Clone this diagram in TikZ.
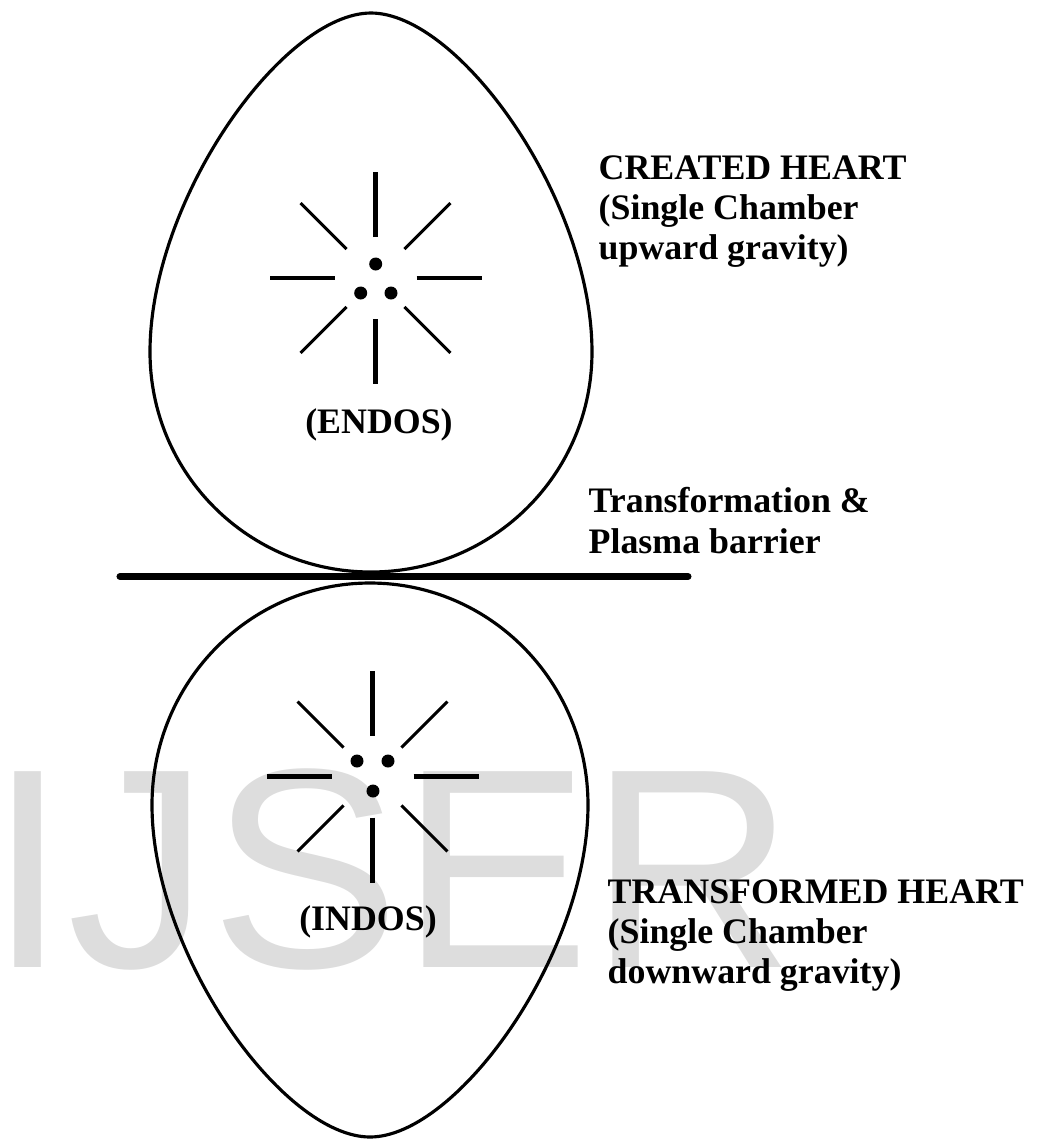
\documentclass[tikz,border=0pt]{standalone}
\usepackage{fontspec}
\setmainfont{Liberation Serif}
\newfontfamily\wmfont{Liberation Sans}
\usepackage{tikz}
\usetikzlibrary{calc}
\definecolor{wmgray}{RGB}{221,221,221}
\tikzset{
  eggline/.style={line width=0.9pt, black},
  rayline/.style={line width=1.15pt},
  diagline/.style={line width=0.85pt},
  nucleus/.style={circle, fill=black, inner sep=0pt, minimum size=0.13cm},
  labeltext/.style={font=\bfseries\fontsize{10.2}{11.4}\selectfont, align=left, inner sep=0pt},
  barrierline/.style={line width=2pt, line cap=round},
}
\begin{document}
\begin{tikzpicture}
  \useasboundingbox (0,0) rectangle (10.48,-11.39);
  % Watermark
  \node[font=\wmfont\fontsize{81}{81}\selectfont, text=wmgray, anchor=base west, inner sep=0pt]
        (wm) at (-0.12,-9.67) {IJSER};
  % Upper egg (created heart)
  \draw[eggline] (3.71,-0.13) .. controls (4.59,-0.13) and (5.92,-1.99) .. (5.92,-3.52)
    .. controls (5.92,-4.74) and (4.93,-5.72) .. (3.71,-5.72)
    .. controls (2.49,-5.72) and (1.50,-4.74) .. (1.50,-3.52)
    .. controls (1.50,-1.99) and (2.83,-0.13) .. cycle;
  % Lower egg (transformed heart)
  \draw[eggline] (3.70,-5.83) .. controls (4.90,-5.83) and (5.88,-6.82) .. (5.88,-8.05)
    .. controls (5.88,-9.54) and (4.57,-11.37) .. (3.70,-11.37)
    .. controls (2.83,-11.37) and (1.52,-9.54) .. (1.52,-8.05)
    .. controls (1.52,-6.82) and (2.50,-5.83) .. cycle;
  % Barrier
  \coordinate (barL) at (1.20,-5.765);
  \coordinate (barR) at (6.88,-5.765);
  \draw[barrierline] (barL) -- (barR);
  % Upper star
  \coordinate (ctop) at (3.755,-2.78);
  \foreach \a in {0,90,180,270}
    \draw[rayline, shift={(ctop)}] (\a:0.41) -- (\a:1.06);
  \foreach \a in {45,135,225,315}
    \draw[diagline, shift={(ctop)}] (\a:0.41) -- (\a:1.06);
  \node[nucleus] (t1) at (3.757,-2.64) {};
  \node[nucleus] (t2) at (3.607,-2.93) {};
  \node[nucleus] (t3) at (3.910,-2.93) {};
  % Lower star
  \coordinate (cbot) at (3.725,-7.765);
  \foreach \a in {0,90,180,270}
    \draw[rayline, shift={(cbot)}] (\a:0.41) -- (\a:1.06);
  \foreach \a in {45,135,225,315}
    \draw[diagline, shift={(cbot)}] (\a:0.41) -- (\a:1.06);
  \node[nucleus] (b1) at (3.570,-7.61) {};
  \node[nucleus] (b2) at (3.880,-7.61) {};
  \node[nucleus] (b3) at (3.730,-7.91) {};
  % Labels
  \node[labeltext, anchor=base] (endos) at (3.79,-4.33) {(ENDOS)};
  \node[labeltext, anchor=base] (indos) at (3.68,-9.30) {(INDOS)};
  \node[labeltext, anchor=north west] (created) at (5.98,-1.55)
        {CREATED HEART\\(Single Chamber\\upward gravity)};
  \node[labeltext, anchor=north west] (barrier) at (5.88,-4.87)
        {Transformation \&\\Plasma barrier};
  \node[labeltext, anchor=north west] (transformed) at (6.07,-8.79)
        {TRANSFORMED HEART\\(Single Chamber\\downward gravity)};
\end{tikzpicture}
\end{document}
